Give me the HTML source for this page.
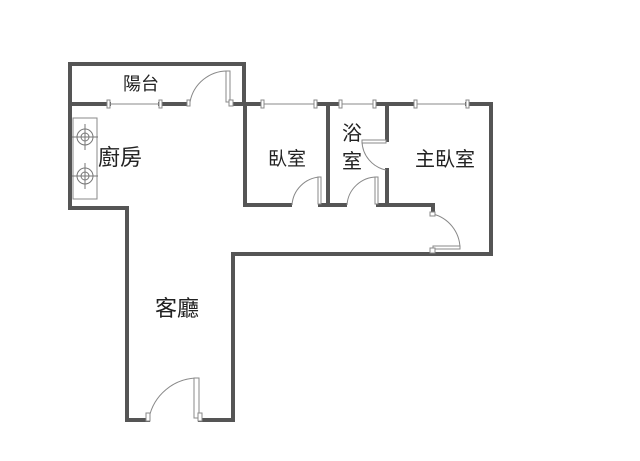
<!DOCTYPE html>
<html><head><meta charset="utf-8"><style>
html,body{margin:0;padding:0;background:#fff;}
svg{display:block}
text{font-family:"Liberation Sans","Noto Sans CJK TC",sans-serif;fill:#222;}
</style></head><body>
<svg width="640" height="461" viewBox="0 0 640 461" xmlns="http://www.w3.org/2000/svg">
<g stroke="#555" stroke-width="4" fill="none" stroke-linecap="square">
<!-- balcony -->
<path d="M70,64 H244 V104"/>
<path d="M70,64 V208 H127 V420 H148"/>
<path d="M200,420 H233 V254 H491 V104 H467"/>
<!-- balcony/interior wall -->
<path d="M70,104 H109"/><path d="M160,104 H188"/><path d="M232,104 H262"/>
<path d="M316,104 H340"/><path d="M375,104 H415"/>
<!-- bedroom -->
<path d="M245,104 V205 H290"/>
<path d="M320,205 H345"/>
<path d="M328,104 V205"/>
<path d="M378,205 H433 V212"/>
<path d="M387,104 V140"/><path d="M387,170 V205"/>
</g>
<g stroke="#888" stroke-width="1" fill="#fff">
<!-- windows -->
<line x1="109" y1="104" x2="160" y2="104"/><rect x="107" y="100" width="3" height="8"/><rect x="159" y="100" width="3" height="8"/>
<line x1="262" y1="104" x2="316" y2="104"/><rect x="261" y="100" width="3" height="8"/><rect x="314" y="100" width="3" height="8"/>
<line x1="340" y1="104" x2="375" y2="104"/><rect x="339" y="100" width="3" height="8"/><rect x="373" y="100" width="3" height="8"/>
<line x1="415" y1="104" x2="467" y2="104"/><rect x="414" y="100" width="3" height="8"/><rect x="466" y="100" width="3" height="8"/>
<!-- balcony door -->
<path d="M190,102 A38,38 0 0 1 228,71" fill="none"/>
<rect x="226" y="71" width="4" height="31"/>
<rect x="187" y="100" width="3" height="6"/><rect x="229" y="100" width="4" height="6"/>
<!-- bedroom door -->
<path d="M292,205 A30,30 0 0 1 320,177" fill="none"/>
<rect x="318" y="177" width="3" height="27"/>
<!-- bath door -->
<path d="M347,205 A30,30 0 0 1 377,177" fill="none"/>
<rect x="375" y="177" width="3" height="27"/>
<!-- bath/master door -->
<path d="M362,141 A30,30 0 0 0 386,170" fill="none"/>
<rect x="362" y="140" width="24" height="3"/>
<!-- master door -->
<path d="M433,214 A36,36 0 0 1 460,248" fill="none"/>
<rect x="433" y="246" width="27" height="3"/>
<rect x="430" y="212" width="5" height="4"/><rect x="430" y="248" width="5" height="5"/>
<!-- entrance door -->
<path d="M149,418 A50,50 0 0 1 197,378" fill="none"/>
<rect x="194" y="378" width="5" height="40"/>
<rect x="146" y="413" width="4" height="8"/><rect x="198" y="413" width="4" height="8"/>
<!-- stove -->
<rect x="73" y="118" width="24" height="81"/>
</g>
<g stroke="#777" stroke-width="1" fill="none">
<circle cx="85" cy="137" r="8"/><circle cx="85" cy="137" r="4"/><path d="M85,124 V150 M72,137 H98"/>
<circle cx="85" cy="176" r="8"/><circle cx="85" cy="176" r="4"/><path d="M85,163 V189 M72,176 H98"/>
</g>
<text x="123" y="90" font-size="18">陽台</text>
<text x="98" y="165" font-size="22">廚房</text>
<text x="268" y="165" font-size="19">臥室</text>
<text x="342" y="140" font-size="20">浴</text>
<text x="342" y="168" font-size="20">室</text>
<text x="415" y="166" font-size="20">主臥室</text>
<text x="155" y="316" font-size="22">客廳</text>
</svg>
</body></html>
